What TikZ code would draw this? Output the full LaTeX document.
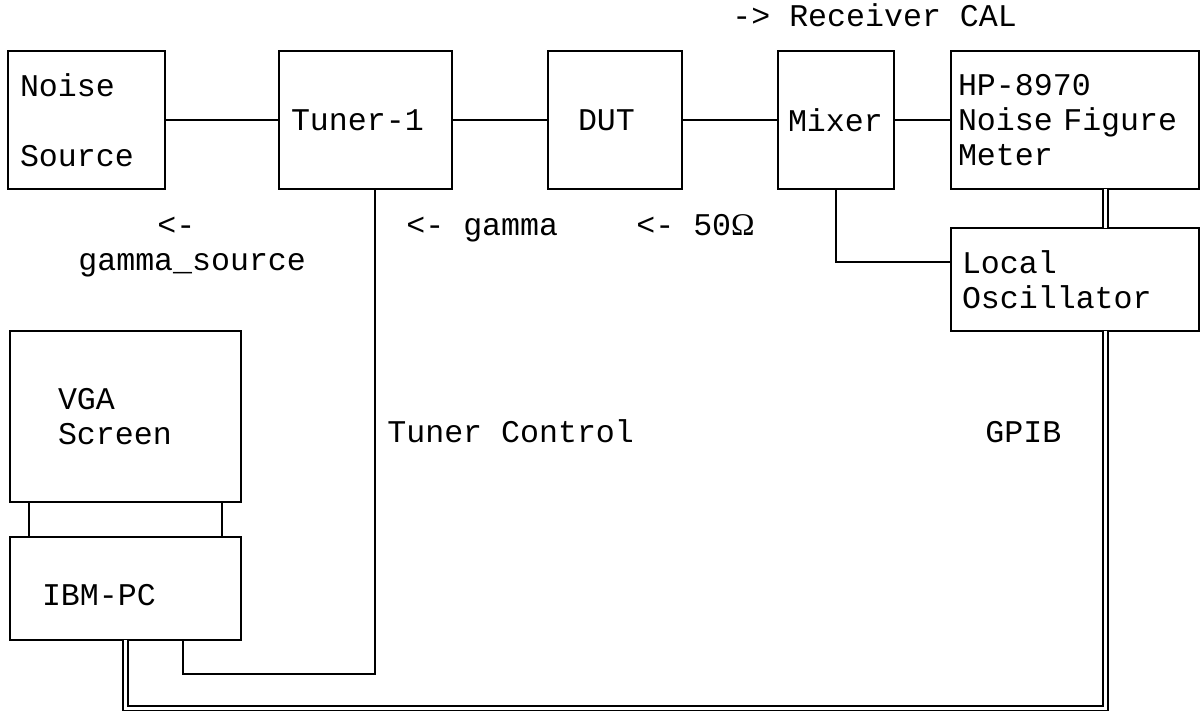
\documentclass[tikz,border=0pt]{standalone}
\usepackage{fontspec}
\usepackage{tikz}
\newfontfamily\mono{Liberation Mono}
\newfontfamily\omegafont{Liberation Serif}

\begin{document}
\begin{tikzpicture}[x=0.5pt,y=-0.5pt,
  blk/.style={draw,line width=1.25pt,outer sep=0pt,inner ysep=0pt,align=left,anchor=north west,font=\mono\fontsize{15.8}{17.5}\selectfont},
  txt/.style={inner sep=0pt,anchor=base west,font=\mono\fontsize{15.8}{17.5}\selectfont},
  wire/.style={line width=1.25pt},
  bus/.style={line width=1pt,double,double distance=1.5pt}
]
\useasboundingbox (0,0) rectangle (1201,711);
% top row
\node[blk,minimum height=69pt,inner xsep=6pt,text width=66.5pt]   (noise) at (8,51)   {Noise\\\mbox{}\\Source};
\node[blk,minimum height=69pt,inner xsep=6pt,text width=74.5pt]   (tuner) at (279,51) {Tuner-1};
\node[blk,minimum height=69pt,inner xsep=15pt,text width=37pt]    (dut)   at (548,51) {DUT};
\node[blk,minimum height=69pt,inner xsep=5pt,text width=48pt]     (mixer) at (778,51) {Mixer};
\node[blk,minimum height=69pt,inner xsep=3.5pt,text width=117pt]  (hp)    at (951,51) {HP-8970\\Noise Figure\\Meter};
\node[blk,minimum height=51.5pt,inner xsep=5.5pt,text width=113pt] (lo)   at (951,228) {Local\\Oscillator};
% computer
\node[blk,minimum height=85.5pt,inner xsep=24pt,text width=67.5pt] (vga)  at (10,331) {VGA\\Screen};
\node[blk,minimum height=51.5pt,inner xsep=16pt,text width=83.5pt] (pc)   at (10,537) {\mbox{}\\IBM-PC};
% labels
\node[txt] (rcal)   at (732,27)  {-> Receiver CAL};
\node[txt] (gsarr)  at (157,236) {<-};
\node[txt] (gsrc)   at (78,271)  {gamma\_source};
\node[txt] (gam)    at (406,236) {<- gamma};
\node[txt] (fifty)  at (636,236) {<- 50{\omegafont Ω}};
\node[txt] (tctl)   at (387,443) {Tuner Control};
\node[txt] (gpib)   at (985,443) {GPIB};
\coordinate (ctlend) at (375,674);
\coordinate (busend) at (125,708);
% connections
\draw[wire] (noise) -- (tuner);
\draw[wire] (tuner) -- (dut);
\draw[wire] (dut) -- (mixer);
\draw[wire] (mixer) -- (hp);
\draw[wire] (mixer.south) |- ([yshift=-17pt]lo.north west);
\draw[wire] ([xshift=9.5pt]vga.south west) -- ([xshift=9.5pt]pc.north west);
\draw[wire] ([xshift=-9.5pt]vga.south east) -- ([xshift=-9.5pt]pc.north east);
\draw[wire] (tuner.south -| ctlend) -- (ctlend) -| ([xshift=86.5pt]pc.south west);
\draw[bus] ([xshift=77pt]hp.south west) -- ([xshift=77pt]lo.north west);
\draw[bus] ([xshift=77pt]lo.south west) |- (busend) -- (pc.south -| busend);
\end{tikzpicture}
\end{document}
